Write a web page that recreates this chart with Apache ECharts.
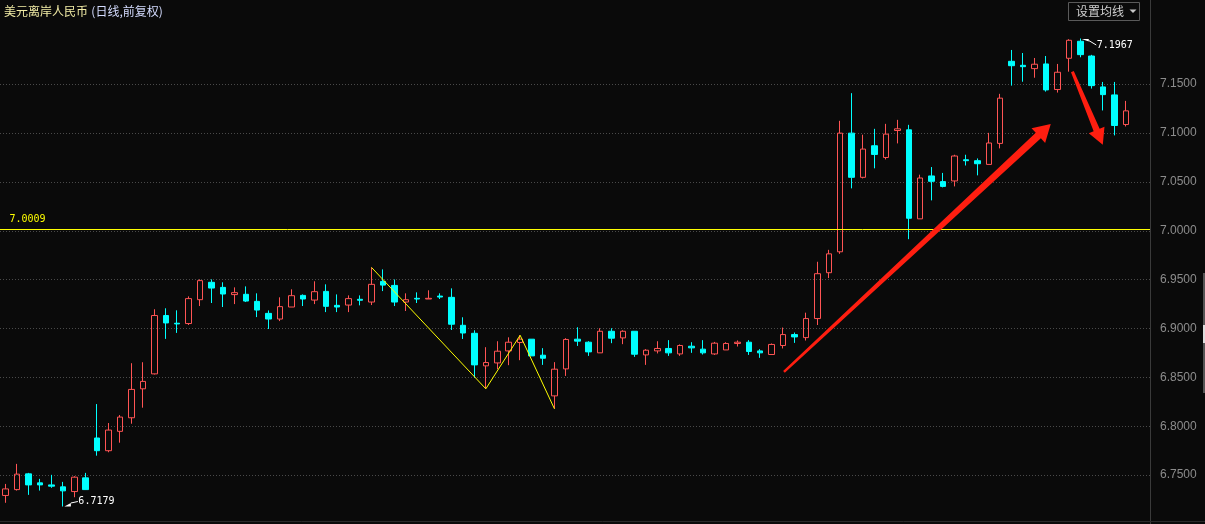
<!DOCTYPE html>
<html>
<head>
<meta charset="utf-8">
<script src="https://cdn.jsdelivr.net/npm/echarts@6.0.0/dist/echarts.min.js"></script>
<style>
html,body{margin:0;padding:0;background:#0a0a0a;overflow:hidden;}
#c{width:1205px;height:524px;}
</style>
</head>
<body>
<div id="c"></div>
<script>
// ---- data ----
const openP = [
6.7292,6.7352,6.7513,6.7421,6.7400,6.7380,6.7332,6.7472,6.7880,6.7750,
6.7948,6.8087,6.8383,6.8536,6.9133,6.9054,6.9051,6.9295,6.9473,6.9421,
6.9347,6.9350,6.9278,6.9155,6.9097,6.9220,6.9339,6.9291,6.9380,6.9237,
6.9240,6.9299,6.9271,6.9482,6.9441,6.9271,6.9309,6.9302,6.9332,6.9319,
6.9033,6.8951,6.8618,6.8648,6.8771,6.8857,6.8891,6.8727,6.8311,6.8587,
6.8891,6.8860,6.8751,6.8972,6.8904,6.8972,6.8730,6.8771,6.8796,6.8740,
6.8819,6.8789,6.8740,6.8781,6.8847,6.8860,6.8771,6.8734,6.8826,6.8938,
6.8907,6.9102,6.9571,6.9785,7.0999,7.0547,7.0870,7.0750,7.1026,7.1033,
7.0122,7.0561,7.0503,7.0510,7.0727,7.0717,7.0679,7.0894,7.1734,7.1693,
7.1659,7.1707,7.1445,7.1765,7.1939,7.1788,7.1472,7.1390,7.1087
];
const closeP = [
6.7359,6.7510,6.7400,6.7400,6.7387,6.7339,6.7479,6.7352,6.7750,6.7961,
6.8094,6.8377,6.8459,6.9133,6.9057,6.9047,6.9306,6.9490,6.9414,6.9353,
6.9367,6.9281,6.9189,6.9097,6.9224,6.9336,6.9302,6.9377,6.9227,6.9220,
6.9306,6.9289,6.9452,6.9444,6.9271,6.9295,6.9302,6.9309,6.9322,6.9044,
6.8954,6.8628,6.8652,6.8768,6.8860,6.8891,6.8720,6.8696,6.8584,6.8888,
6.8871,6.8761,6.8972,6.8901,6.8972,6.8737,6.8778,6.8796,6.8751,6.8826,
6.8802,6.8751,6.8850,6.8847,6.8860,6.8765,6.8751,6.8837,6.8938,6.8914,
6.9102,6.9561,6.9764,7.0999,7.0547,7.0836,7.0781,7.0989,7.1043,7.0128,
7.0540,7.0506,7.0454,7.0765,7.0717,7.0686,7.0898,7.1357,7.1689,7.1679,
7.1704,7.1441,7.1622,7.1949,7.1802,7.1485,7.1393,7.1077,7.1227
];
const lowP = [
6.7217,6.7342,6.7298,6.7342,6.7370,6.7179,6.7274,6.7350,6.7699,6.7734,
6.7832,6.8026,6.8190,6.8530,6.8894,6.8955,6.9036,6.9230,6.9261,6.9220,
6.9250,6.9271,6.9117,6.8995,6.9076,6.9220,6.9230,6.9250,6.9168,6.9168,
6.9168,6.9237,6.9240,6.9383,6.9230,6.9179,6.9261,6.9302,6.9302,6.8985,
6.8893,6.8496,6.8383,6.8584,6.8625,6.8676,6.8720,6.8628,6.8179,6.8515,
6.8822,6.8720,6.8751,6.8850,6.8840,6.8710,6.8628,6.8745,6.8720,6.8720,
6.8751,6.8734,6.8730,6.8781,6.8816,6.8730,6.8700,6.8734,6.8796,6.8853,
6.8877,6.9036,6.9516,6.9764,7.0434,7.0536,7.0639,7.0730,7.0894,6.9914,
7.0122,7.0311,7.0444,7.0454,7.0668,7.0567,7.0679,7.0843,7.1485,7.1525,
7.1566,7.1424,7.1414,7.1628,7.1775,7.1455,7.1231,7.0976,7.1067
];
const highP = [
6.7410,6.7615,6.7523,6.7462,6.7503,6.7431,6.7489,6.7523,6.8227,6.8033,
6.8115,6.8645,6.8655,6.9197,6.9207,6.9186,6.9329,6.9503,6.9503,6.9473,
6.9421,6.9431,6.9360,6.9185,6.9319,6.9401,6.9349,6.9483,6.9452,6.9349,
6.9339,6.9339,6.9625,6.9605,6.9502,6.9360,6.9370,6.9391,6.9360,6.9411,
6.9115,6.8982,6.8809,6.8870,6.8910,6.8931,6.8891,6.8799,6.8656,6.8901,
6.9013,6.8870,6.9003,6.9003,6.8982,6.8972,6.8789,6.8870,6.8881,6.8837,
6.8860,6.8881,6.8863,6.8860,6.8878,6.8881,6.8789,6.8847,6.9010,6.8959,
6.9162,6.9683,6.9805,7.1125,7.1408,7.0983,7.1043,7.1094,7.1135,7.1084,
7.0574,7.0652,7.0592,7.0778,7.0778,7.0740,7.1002,7.1401,7.1850,7.1819,
7.1768,7.1788,7.1707,7.1960,7.1967,7.1800,7.1523,7.1523,7.1329
];
const yTicks = [6.75, 6.80, 6.85, 6.90, 6.95, 7.00, 7.05, 7.10, 7.15];
const zigzag = [[32, 6.9625], [42, 6.8383], [45, 6.8931], [48, 6.8179]];
const refLevel = 7.0009;
const lowMark = [5, 6.7179];
const highMark = [94, 7.1967];
const arrowUp = [[68.08, 6.8557], [91.42, 7.1092]];
const arrowDown = [[93.31, 7.1629], [95.97, 7.0881]];
const titleMain = '美元离岸人民币';
const titleSub = '(日线,前复权)';
const buttonText = '设置均线';

// ---- chart ----
const UP = '#ff5454', DOWN = '#00ffff', BG = '#0a0a0a', ARROW = '#ff1e10', YEL = '#ffff00';
const X_MIN = -0.5, X_MAX = 100.1;
const chart = echarts.init(document.getElementById('c'), null, {renderer: 'canvas'});
const candleRows = openP.map((o, i) => [i, o, closeP[i], lowP[i], highP[i]]);

chart.setOption({
  backgroundColor: BG,
  animation: false,
  grid: {left: 0, top: 35.3, width: 1150, height: 490},
  xAxis: {type: 'value', min: X_MIN, max: X_MAX, show: false},
  yAxis: {
    type: 'value', position: 'right', min: 6.70, max: 7.20, interval: 0.05,
    axisLine: {show: false}, axisTick: {show: false},
    axisLabel: {
      color: '#8c8c8c', fontSize: 12, fontFamily: '"Liberation Sans", Arial, sans-serif',
      margin: 10, padding: [3, 0, 0, 0],
      formatter: v => yTicks.some(t => Math.abs(t - v) < 1e-6) ? v.toFixed(4) : ''
    },
    splitLine: {show: true, showMinLine: false, showMaxLine: false,
      lineStyle: {color: '#4a4a4a', width: 1, type: [1, 2]}}
  },
  series: [
    {
      type: 'candlestick', data: candleRows, encode: {x: 0, y: [1, 2, 3, 4]},
      barWidth: 6, z: 2,
      itemStyle: {color: 'transparent', color0: DOWN, borderColor: UP, borderColor0: DOWN, borderWidth: 1}
    },
    {
      type: 'line', data: zigzag, symbol: 'none', silent: true, z: 3,
      color: YEL, lineStyle: {color: YEL, width: 1}
    }
  ]
});

const px = p => chart.convertToPixel({gridIndex: 0}, p);

function arrowPoly(p0, p1, w0, w1, hl, hw) {
  const dx = p1[0] - p0[0], dy = p1[1] - p0[1], L = Math.hypot(dx, dy);
  const ux = dx / L, uy = dy / L, nx = -uy, ny = ux;
  const bx = p1[0] - ux * hl, by = p1[1] - uy * hl;
  return [
    [p0[0] + nx * w0 / 2, p0[1] + ny * w0 / 2],
    [bx + nx * w1 / 2, by + ny * w1 / 2],
    [bx + nx * hw, by + ny * hw],
    [p1[0], p1[1]],
    [bx - nx * hw, by - ny * hw],
    [bx - nx * w1 / 2, by - ny * w1 / 2],
    [p0[0] - nx * w0 / 2, p0[1] - ny * w0 / 2]
  ];
}

const monoFont = '10px "DejaVu Sans Mono", monospace';
const lp = px(lowMark), hp = px(highMark);
const rs = px([X_MIN, refLevel]), re = px([X_MAX, refLevel]);
const refY = Math.floor(rs[1]) + 0.5;
const a1 = arrowUp.map(px), a2 = arrowDown.map(px);

const g = [
  {type: 'line', z: 50, silent: true, shape: {x1: 1150.5, y1: 0, x2: 1150.5, y2: 524}, style: {stroke: '#3a3a3a', lineWidth: 1}},
  {type: 'line', z: 50, silent: true, shape: {x1: 0, y1: 521.5, x2: 1205, y2: 521.5}, style: {stroke: '#2a2a2a', lineWidth: 1}},
  {type: 'rect', z: 50, silent: true, shape: {x: 1203, y: 273, width: 2, height: 120}, style: {fill: '#555'}},
  {type: 'rect', z: 51, silent: true, shape: {x: 1203, y: 325, width: 2, height: 18}, style: {fill: '#ddd'}},
  {type: 'text', z: 50, silent: true, x: 4, y: 11, style: {
    text: '{a|' + titleMain + '} {b|' + titleSub + '}', verticalAlign: 'middle',
    rich: {
      a: {fill: '#f2eca6', font: '12px "Noto Sans CJK SC", sans-serif'},
      b: {fill: '#d4dcff', font: '12px "Noto Sans CJK SC", sans-serif'}
    }
  }},
  {type: 'rect', z: 50, silent: true, shape: {x: 1068.5, y: 2.5, width: 71, height: 18}, style: {fill: BG, stroke: '#5a5a5a', lineWidth: 1}},
  {type: 'text', z: 51, silent: true, x: 1076, y: 11.5, style: {text: buttonText, fill: '#d0d0d0', font: '12px "Noto Sans CJK SC", sans-serif', verticalAlign: 'middle'}},
  {type: 'polygon', z: 51, silent: true, shape: {points: [[1129.5, 9.5], [1136.5, 9.5], [1133, 13]]}, style: {fill: '#c8c8c8'}},
  // reference level line (anchored to the data value)
  {type: 'line', z: 40, silent: true, shape: {x1: rs[0], y1: refY, x2: re[0], y2: refY}, style: {stroke: YEL, lineWidth: 1}},
  {type: 'text', z: 50, silent: true, x: rs[0] + 9.5, y: rs[1] - 10, style: {text: refLevel.toFixed(4), fill: YEL, font: monoFont, verticalAlign: 'middle'}},
  {type: 'polygon', z: 50, silent: true, shape: {points: [[lp[0] + 1.5, lp[1]], [lp[0] + 8, lp[1]], [lp[0] + 8, lp[1] - 3.5]]}, style: {fill: '#ffffff'}},
  {type: 'line', z: 50, silent: true, shape: {x1: lp[0] + 8, y1: lp[1] - 3.5, x2: lp[0] + 15, y2: lp[1] - 5}, style: {stroke: '#ffffff', lineWidth: 1}},
  {type: 'text', z: 50, silent: true, x: lp[0] + 15.5, y: lp[1] - 5, style: {text: lowMark[1].toFixed(4), fill: '#ffffff', font: monoFont, verticalAlign: 'middle'}},
  {type: 'polygon', z: 50, silent: true, shape: {points: [[hp[0] + 1.5, hp[1] + 0.5], [hp[0] + 8.5, hp[1] + 0.5], [hp[0] + 8.5, hp[1] + 3]]}, style: {fill: '#ffffff'}},
  {type: 'line', z: 50, silent: true, shape: {x1: hp[0] + 8.5, y1: hp[1] + 2, x2: hp[0] + 16, y2: hp[1] + 6.5}, style: {stroke: '#ffffff', lineWidth: 1}},
  {type: 'text', z: 50, silent: true, x: hp[0] + 16.5, y: hp[1] + 7, style: {text: highMark[1].toFixed(4), fill: '#ffffff', font: monoFont, verticalAlign: 'middle'}},
  {type: 'polygon', z: 60, silent: true, shape: {points: arrowPoly(a1[0], a1[1], 2.5, 7.5, 17, 10)}, style: {fill: ARROW}},
  {type: 'polygon', z: 60, silent: true, shape: {points: arrowPoly(a2[0], a2[1], 3, 6.5, 16, 8.5)}, style: {fill: ARROW}}
];
chart.setOption({graphic: g});
</script>
</body>
</html>
